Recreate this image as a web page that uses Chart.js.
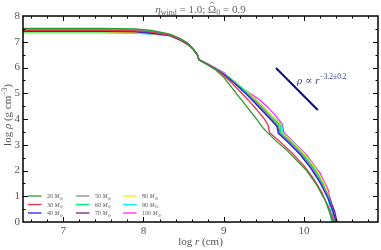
<!DOCTYPE html>
<html>
<head>
<meta charset="utf-8">
<script src="https://cdn.jsdelivr.net/npm/chart.js@4.4.0/dist/chart.umd.min.js"></script>
<style>
  html, body { margin: 0; padding: 0; background: #fff; }
</style>
</head>
<body>
<canvas id="rhoChart" width="381" height="250"></canvas>
<script>
// mass labels and colours
const masses = [20, 30, 40, 50, 60, 70, 80, 90, 100];
const colors = ["#2f9a2f", "#e6334c", "#2424e0", "#8c8c8c", "#00f07a", "#7d1a7d", "#f0f000", "#00f2f2", "#ff20ff"];

// log r (cm) / log rho (g cm^-3) for each model
const logR20 = [6.5, 7.5, 7.9, 8.1, 8.33, 8.46, 8.54, 8.6, 8.65, 8.67, 8.69, 8.8, 8.9, 9.0, 9.1, 9.2, 9.3, 9.4, 9.49, 9.53, 9.65, 9.78, 9.9, 10.03, 10.16, 10.26, 10.32, 10.36, 10.38];
const rho20  = [7.52, 7.52, 7.5, 7.44, 7.3, 7.12, 6.97, 6.8, 6.6, 6.5, 6.3, 6.1, 5.9, 5.62, 5.22, 4.82, 4.42, 4.03, 3.65, 3.52, 3.15, 2.8, 2.42, 2.0, 1.42, 0.85, 0.35, -0.05, -0.3];

const logR30 = [6.5, 7.5, 7.9, 8.1, 8.33, 8.46, 8.54, 8.6, 8.65, 8.67, 8.69, 8.8, 8.9, 9.0, 9.1, 9.2, 9.3, 9.4, 9.5, 9.55, 9.57, 9.7, 9.85, 10.0, 10.12, 10.22, 10.3, 10.35, 10.37, 10.39];
const rho30  = [7.44, 7.44, 7.42, 7.37, 7.25, 7.07, 6.93, 6.78, 6.58, 6.5, 6.3, 6.12, 5.93, 5.7, 5.4, 5.08, 4.75, 4.4, 4.02, 3.78, 3.47, 3.12, 2.68, 2.18, 1.68, 1.15, 0.6, 0.2, -0.05, -0.3];

const logR40 = [6.5, 7.5, 7.9, 8.1, 8.33, 8.46, 8.54, 8.6, 8.65, 8.67, 8.69, 8.8, 8.9, 9.0, 9.1, 9.2, 9.3, 9.4, 9.5, 9.6, 9.66, 9.68, 9.8, 9.95, 10.08, 10.2, 10.3, 10.36, 10.4, 10.42];
const rho40  = [7.42, 7.42, 7.4, 7.35, 7.25, 7.07, 6.93, 6.78, 6.58, 6.5, 6.3, 6.12, 5.94, 5.74, 5.48, 5.2, 4.9, 4.58, 4.25, 3.92, 3.72, 3.44, 3.1, 2.62, 2.1, 1.52, 0.9, 0.42, 0.0, -0.3];

const logR50 = [6.5, 7.5, 7.9, 8.1, 8.33, 8.46, 8.54, 8.6, 8.65, 8.67, 8.69, 8.8, 8.9, 9.0, 9.1, 9.2, 9.3, 9.4, 9.5, 9.6, 9.68, 9.7, 9.82, 9.97, 10.1, 10.22, 10.31, 10.36, 10.39, 10.41];
const rho50  = [7.47, 7.47, 7.45, 7.4, 7.26, 7.08, 6.94, 6.78, 6.58, 6.5, 6.3, 6.12, 5.94, 5.75, 5.5, 5.23, 4.95, 4.65, 4.33, 4.0, 3.74, 3.45, 3.1, 2.62, 2.1, 1.5, 0.9, 0.4, 0.0, -0.3];

const logR60 = [6.5, 7.5, 7.9, 8.1, 8.33, 8.46, 8.54, 8.6, 8.65, 8.67, 8.69, 8.8, 8.9, 9.0, 9.1, 9.2, 9.3, 9.4, 9.5, 9.6, 9.7, 9.71, 9.84, 9.98, 10.12, 10.23, 10.31, 10.35, 10.38, 10.4];
const rho60  = [7.49, 7.49, 7.47, 7.42, 7.27, 7.09, 6.94, 6.78, 6.58, 6.5, 6.3, 6.12, 5.95, 5.76, 5.52, 5.26, 4.99, 4.7, 4.38, 4.05, 3.76, 3.46, 3.1, 2.65, 2.1, 1.5, 0.92, 0.45, 0.0, -0.3];

const logR70 = [6.5, 7.5, 7.9, 8.1, 8.33, 8.46, 8.54, 8.6, 8.65, 8.67, 8.69, 8.8, 8.9, 9.0, 9.1, 9.2, 9.3, 9.4, 9.5, 9.6, 9.67, 9.69, 9.82, 9.97, 10.1, 10.22, 10.32, 10.38, 10.41, 10.43];
const rho70  = [7.4, 7.4, 7.38, 7.33, 7.24, 7.06, 6.92, 6.77, 6.58, 6.5, 6.3, 6.12, 5.94, 5.74, 5.49, 5.21, 4.92, 4.61, 4.28, 3.95, 3.73, 3.45, 3.08, 2.6, 2.1, 1.5, 0.9, 0.42, 0.0, -0.3];

const logR80 = [6.5, 7.5, 7.9, 8.1, 8.33, 8.46, 8.54, 8.6, 8.65, 8.67, 8.69, 8.8, 8.9, 9.0, 9.1, 9.2, 9.3, 9.4, 9.5, 9.6, 9.71, 9.72, 9.86, 10.0, 10.14, 10.25, 10.32, 10.36, 10.38, 10.4];
const rho80  = [7.38, 7.38, 7.36, 7.32, 7.24, 7.06, 6.92, 6.77, 6.58, 6.5, 6.3, 6.13, 5.96, 5.77, 5.53, 5.28, 5.02, 4.74, 4.42, 4.09, 3.77, 3.47, 3.08, 2.65, 2.1, 1.5, 0.92, 0.45, 0.0, -0.3];

const logR90 = [6.5, 7.5, 7.9, 8.1, 8.33, 8.46, 8.54, 8.6, 8.65, 8.67, 8.69, 8.8, 8.9, 9.0, 9.1, 9.2, 9.3, 9.4, 9.5, 9.6, 9.72, 9.73, 9.87, 10.0, 10.14, 10.24, 10.3, 10.33, 10.34, 10.35];
const rho90  = [7.35, 7.35, 7.33, 7.3, 7.23, 7.06, 6.92, 6.77, 6.58, 6.5, 6.3, 6.13, 5.97, 5.78, 5.54, 5.29, 5.04, 4.76, 4.45, 4.12, 3.78, 3.48, 3.08, 2.65, 2.08, 1.48, 0.9, 0.42, 0.0, -0.3];

const logR100 = [6.5, 7.5, 7.9, 8.1, 8.33, 8.46, 8.54, 8.6, 8.65, 8.67, 8.69, 8.8, 8.9, 9.0, 9.1, 9.24, 9.35, 9.45, 9.55, 9.62, 9.7, 9.73, 9.745, 9.76, 9.9, 10.03, 10.2, 10.3, 10.34, 10.355, 10.365, 10.37];
const rho100  = [7.37, 7.37, 7.35, 7.31, 7.24, 7.06, 6.92, 6.77, 6.58, 6.5, 6.3, 6.14, 5.98, 5.8, 5.52, 5.14, 4.95, 4.74, 4.45, 4.22, 3.92, 3.8, 3.5, 3.44, 3.0, 2.6, 1.89, 1.24, 0.7, 0.35, 0.0, -0.3];

const logRs = [logR20, logR30, logR40, logR50, logR60, logR70, logR80, logR90, logR100];
const rhos  = [rho20, rho30, rho40, rho50, rho60, rho70, rho80, rho90, rho100];

// reference slope line (rho ~ r^-3.2)
const slopeR   = [9.65, 10.17];
const slopeRho = [5.98, 4.35];

const xTicks = [7, 8, 9, 10];
const yTicks = [0, 1, 2, 3, 4, 5, 6, 7, 8];

const SERIF = "'Liberation Serif', 'DejaVu Serif', serif";

const datasets = masses.map((m, i) => ({
    label: m + " M",
    data: logRs[i].map((x, j) => ({ x: x, y: rhos[i][j] })),
    borderColor: colors[i],
    borderWidth: 1.3,
    pointRadius: 0,
    fill: false,
    tension: 0
}));
datasets.push({
    label: "slope",
    data: slopeR.map((x, j) => ({ x: x, y: slopeRho[j] })),
    borderColor: "#0b0b7a",
    borderWidth: 2,
    pointRadius: 0,
    fill: false
});

// draw a run of text pieces with mixed styles
function drawRich(ctx, parts, x, y, align) {
    let w = 0;
    parts.forEach(p => {
        ctx.font = (p.italic ? "italic " : "") + p.size + "px " + SERIF;
        p.w = ctx.measureText(p.t).width;
        w += p.w;
    });
    let cx = align === "center" ? x - w / 2 : x;
    parts.forEach(p => {
        ctx.font = (p.italic ? "italic " : "") + p.size + "px " + SERIF;
        ctx.fillText(p.t, cx, y + (p.dy || 0));
        if (p.hat) {
            const hy = y - p.size * 0.78;
            ctx.save();
            ctx.lineWidth = 0.8;
            ctx.strokeStyle = ctx.fillStyle;
            ctx.beginPath();
            ctx.moveTo(cx + p.w * 0.25, hy);
            ctx.lineTo(cx + p.w * 0.5, hy - 2.2);
            ctx.lineTo(cx + p.w * 0.75, hy);
            ctx.stroke();
            ctx.restore();
        }
        cx += p.w;
    });
}

const decorPlugin = {
    id: "decor",
    afterDraw(chart) {
        const ctx = chart.ctx;
        const a = chart.chartArea;
        const xs = chart.scales.x, ys = chart.scales.y;
        ctx.save();

        // inward ticks on all four sides
        ctx.strokeStyle = "#000";
        ctx.lineWidth = 1;
        ctx.beginPath();
        for (let v = 6.6; v < 10.9; v += 0.2) {
            const px = Math.round(xs.getPixelForValue(v)) + 0.5;
            const major = Math.abs(v - Math.round(v)) < 0.01;
            const len = major ? 5 : 2.5;
            ctx.moveTo(px, a.bottom); ctx.lineTo(px, a.bottom - len);
            ctx.moveTo(px, a.top); ctx.lineTo(px, a.top + len);
        }
        for (let v = 0.5; v < 8; v += 0.5) {
            const py = Math.round(ys.getPixelForValue(v)) + 0.5;
            const major = Math.abs(v - Math.round(v)) < 0.01;
            const len = major ? 5 : 2.5;
            ctx.moveTo(a.left, py); ctx.lineTo(a.left + len, py);
            ctx.moveTo(a.right, py); ctx.lineTo(a.right - len, py);
        }
        ctx.stroke();

        // frame
        ctx.lineWidth = 1.5;
        ctx.strokeRect(a.left, a.top, a.right - a.left, a.bottom - a.top);

        // title
        ctx.fillStyle = "#666";
        ctx.textBaseline = "alphabetic";
        drawRich(ctx, [
            { t: "η", italic: true, size: 11 },
            { t: "wind", size: 8, dy: 2.5 },
            { t: " = 1.0; ", size: 11 },
            { t: "Ω", size: 11, hat: true },
            { t: "0", size: 8, dy: 2.5 },
            { t: " = 0.9", size: 11 }
        ], (a.left + a.right) / 2, 12.5, "center");

        // axis titles
        ctx.fillStyle = "#555";
        drawRich(ctx, [
            { t: "log ", size: 11 },
            { t: "r", italic: true, size: 11 },
            { t: " (cm)", size: 11 }
        ], (a.left + a.right) / 2, 245, "center");

        ctx.save();
        ctx.translate(11, (a.top + a.bottom) / 2 - 4);
        ctx.rotate(-Math.PI / 2);
        drawRich(ctx, [
            { t: "log ", size: 11 },
            { t: "ρ", italic: true, size: 11 },
            { t: " (g cm", size: 11 },
            { t: "−3", size: 7.5, dy: -4 },
            { t: ")", size: 11 }
        ], 0, 0, "center");
        ctx.restore();

        // slope annotation
        ctx.fillStyle = "#3b3b9c";
        drawRich(ctx, [
            { t: "ρ ∝ ", italic: true, size: 11 },
            { t: "r", italic: true, size: 11 },
            { t: "−3.2±0.2", size: 7.5, dy: -5 }
        ], 297, 84, "left");

        // legend, three columns inside the lower left corner
        const colX = [28, 76, 123];
        const rowY = [196, 204.5, 213];
        masses.forEach((m, i) => {
            const c = Math.floor(i / 3), r = i % 3;
            const x0 = colX[c], y0 = rowY[r];
            ctx.strokeStyle = colors[i];
            ctx.lineWidth = 1.3;
            ctx.beginPath();
            ctx.moveTo(x0, y0); ctx.lineTo(x0 + 13.5, y0);
            ctx.stroke();
            ctx.fillStyle = "#555";
            drawRich(ctx, [
                { t: m + " ", size: 6 },
                { t: "M", italic: true, size: 6 },
                { t: "⊙", size: 4.5, dy: 1.5 }
            ], x0 + 19, y0 + 2, "left");
        });

        ctx.restore();
    }
};

new Chart(document.getElementById("rhoChart").getContext("2d"), {
    type: "line",
    data: { datasets: datasets },
    options: {
        responsive: false,
        animation: false,
        devicePixelRatio: 1,
        layout: { padding: { top: 16, right: 3, left: 0, bottom: 0 } },
        plugins: {
            legend: { display: false },
            tooltip: { enabled: false }
        },
        scales: {
            x: {
                type: "linear",
                min: 6.5,
                max: 10.92,
                afterFit: s => { s.height = 28; },
                afterBuildTicks: s => { s.ticks = xTicks.map(v => ({ value: v })); },
                grid: { display: false, drawTicks: false },
                border: { display: false },
                ticks: { font: { family: SERIF, size: 11 }, color: "#555", padding: 3, maxRotation: 0 }
            },
            y: {
                type: "linear",
                min: 0,
                max: 8,
                afterFit: s => { s.width = 23; },
                afterBuildTicks: s => { s.ticks = yTicks.map(v => ({ value: v })); },
                grid: { display: false, drawTicks: false },
                border: { display: false },
                ticks: { font: { family: SERIF, size: 11 }, color: "#555", padding: 3 }
            }
        }
    },
    plugins: [decorPlugin]
});
</script>
</body>
</html>
